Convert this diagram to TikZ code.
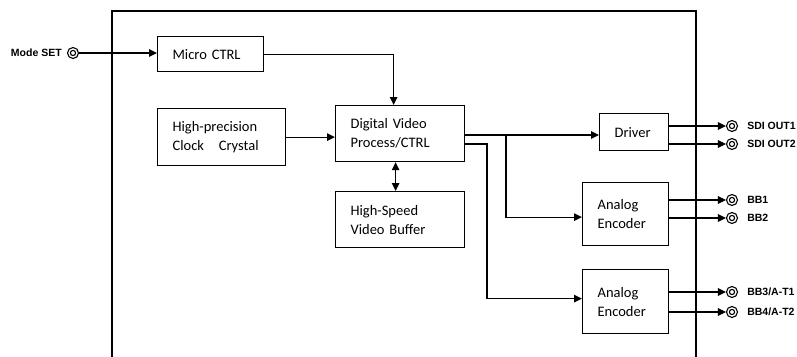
\documentclass[tikz,border=0pt]{standalone}
\usepackage{fontspec}
\setmainfont{Carlito}
\newfontfamily\labelfont{Liberation Sans}
\usetikzlibrary{arrows.meta}
\begin{document}
\begin{tikzpicture}[x=1pt,y=-1pt,
  blk/.style={draw,line width=1.2pt,anchor=north west,inner xsep=15pt,
    inner ysep=0pt,align=left,font=\fontsize{14.5}{19}\selectfont},
  term/.style={circle,draw,line width=1.1pt,minimum size=11pt,inner sep=0pt,
    path picture={\draw[line width=1.1pt] (path picture bounding box.center) circle (2.6pt);}},
  lbl/.style={inner sep=0pt,font=\labelfont\bfseries\fontsize{10.5}{12}\selectfont},
  conn/.style={line width=1.1pt,-{Triangle[length=8pt,width=7.5pt]}}]
  \useasboundingbox
    (0,0)
    rectangle
    (797,356);
  \draw[line width=2.4pt]
    (112,362)
    --
    (112,11)
    --
    (696,11)
    --
    (696,362);
  \node[blk,text width=76pt,minimum height=35pt] (micro) at (157,36) {Micro CTRL};
  \node[blk,text width=98pt,minimum height=57pt] (clock) at (157,108) {High-precision\\Clock\hspace{10pt} Crystal};
  \node[blk,text width=99pt,minimum height=56pt] (dvp) at (335,105) {Digital Video\\Process/CTRL};
  \node[blk,text width=99pt,minimum height=56pt] (buffer) at (335,191) {High-Speed\\Video Buffer};
  \node[blk,text width=39pt,minimum height=37pt] (driver) at (599,113) {Driver};
  \node[blk,text width=56pt,minimum height=63pt] (enca) at (582,182) {Analog\\Encoder};
  \node[blk,text width=56pt,minimum height=64pt] (encb) at (582,269) {Analog\\Encoder};
  \node[term] (modeset) at (73,53) {};
  \node[term] (sdia) at (732,126) {};
  \node[term] (sdib) at (732,144) {};
  \node[term] (bba) at (732,200) {};
  \node[term] (bbb) at (732,218) {};
  \node[term] (bbc) at (732,292) {};
  \node[term] (bbd) at (732,312) {};
  \node[lbl,anchor=east] (modesetlbl) at ([xshift=-5pt]modeset.west) {Mode SET};
  \node[lbl,anchor=west] (sdialbl) at ([xshift=9pt]sdia.east) {SDI OUT1};
  \node[lbl,anchor=west] (sdiblbl) at ([xshift=9pt]sdib.east) {SDI OUT2};
  \node[lbl,anchor=west] (bbalbl) at ([xshift=9pt]bba.east) {BB1};
  \node[lbl,anchor=west] (bbblbl) at ([xshift=9pt]bbb.east) {BB2};
  \node[lbl,anchor=west] (bbclbl) at ([xshift=9pt]bbc.east) {BB3/A-T1};
  \node[lbl,anchor=west] (bbdlbl) at ([xshift=9pt]bbd.east) {BB4/A-T2};
  \coordinate (split) at (506,135);
  \coordinate (tap) at (487,144);
  \draw[conn]
    (modeset.east)
    --
    (modeset.east -| micro.west);
  \draw[conn]
    (micro.east)
    -|
    ([xshift=-6.5pt]dvp.north);
  \draw[conn]
    (clock.east)
    --
    (clock.east -| dvp.west);
  \draw[line width=1.1pt,{Triangle[length=8pt,width=7.5pt]}-{Triangle[length=8pt,width=7.5pt]}]
    ([xshift=-4.5pt]dvp.south)
    --
    ([xshift=-4.5pt]buffer.north);
  \draw[conn]
    (dvp.east |- split)
    --
    (split -| driver.west);
  \draw[conn]
    (split)
    |-
    ([yshift=-3pt]enca.west);
  \draw[conn]
    (dvp.east |- tap)
    --
    (tap)
    |-
    ([yshift=3pt]encb.west);
  \draw[conn]
    (driver.east |- sdia)
    --
    (sdia);
  \draw[conn]
    (driver.east |- sdib)
    --
    (sdib);
  \draw[conn]
    (enca.east |- bba)
    --
    (bba);
  \draw[conn]
    (enca.east |- bbb)
    --
    (bbb);
  \draw[conn]
    (encb.east |- bbc)
    --
    (bbc);
  \draw[conn]
    (encb.east |- bbd)
    --
    (bbd);
\end{tikzpicture}
\end{document}
